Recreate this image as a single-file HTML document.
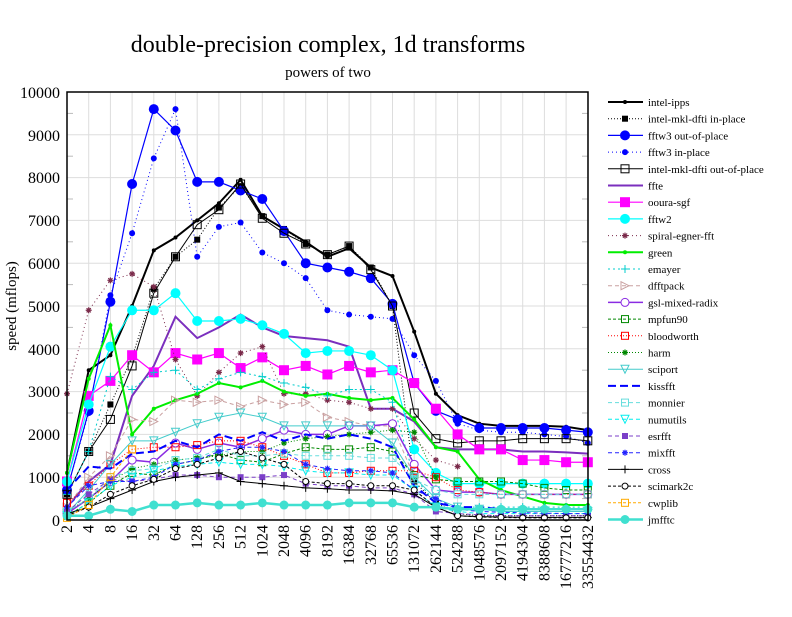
<!DOCTYPE html>
<html><head><meta charset="utf-8"><style>
body{margin:0;background:#fff}
svg text{font-family:"Liberation Serif",serif}
</style></head><body>
<svg id="s" width="792" height="612" viewBox="0 0 792 612" xmlns="http://www.w3.org/2000/svg">
<rect width="792" height="612" fill="#fff"/>
<text x="328" y="52" font-size="24" text-anchor="middle">double-precision complex, 1d transforms</text>
<text x="328" y="77" font-size="15" text-anchor="middle">powers of two</text>
<text transform="translate(16,306) rotate(-90)" font-size="15" text-anchor="middle">speed (mflops)</text>
<g font-size="16" text-anchor="end">
<text x="60" y="526">0</text><text x="60" y="483">1000</text><text x="60" y="440">2000</text><text x="60" y="397">3000</text><text x="60" y="355">4000</text><text x="60" y="312">5000</text><text x="60" y="269">6000</text><text x="60" y="226">7000</text><text x="60" y="183">8000</text><text x="60" y="141">9000</text><text x="60" y="98">10000</text>
</g>
<g id="xl" font-size="16" text-anchor="end">
<text transform="translate(72,525) rotate(-90)">2</text>
<text transform="translate(93.7,525) rotate(-90)">4</text>
<text transform="translate(115.4,525) rotate(-90)">8</text>
<text transform="translate(137.1,525) rotate(-90)">16</text>
<text transform="translate(158.8,525) rotate(-90)">32</text>
<text transform="translate(180.5,525) rotate(-90)">64</text>
<text transform="translate(202.2,525) rotate(-90)">128</text>
<text transform="translate(223.9,525) rotate(-90)">256</text>
<text transform="translate(245.6,525) rotate(-90)">512</text>
<text transform="translate(267.3,525) rotate(-90)">1024</text>
<text transform="translate(289,525) rotate(-90)">2048</text>
<text transform="translate(310.7,525) rotate(-90)">4096</text>
<text transform="translate(332.4,525) rotate(-90)">8192</text>
<text transform="translate(354.1,525) rotate(-90)">16384</text>
<text transform="translate(375.8,525) rotate(-90)">32768</text>
<text transform="translate(397.5,525) rotate(-90)">65536</text>
<text transform="translate(419.2,525) rotate(-90)">131072</text>
<text transform="translate(440.9,525) rotate(-90)">262144</text>
<text transform="translate(462.6,525) rotate(-90)">524288</text>
<text transform="translate(484.3,525) rotate(-90)">1048576</text>
<text transform="translate(506,525) rotate(-90)">2097152</text>
<text transform="translate(527.7,525) rotate(-90)">4194304</text>
<text transform="translate(549.4,525) rotate(-90)">8388608</text>
<text transform="translate(571.1,525) rotate(-90)">16777216</text>
<text transform="translate(592.8,525) rotate(-90)">33554432</text>
</g>
<g font-size="11">
<text x="648" y="106">intel-ipps</text>
<text x="648" y="122.7">intel-mkl-dfti in-place</text>
<text x="648" y="139.4">fftw3 out-of-place</text>
<text x="648" y="156.1">fftw3 in-place</text>
<text x="648" y="172.8">intel-mkl-dfti out-of-place</text>
<text x="648" y="189.5">ffte</text>
<text x="648" y="206.2">ooura-sgf</text>
<text x="648" y="222.9">fftw2</text>
<text x="648" y="239.6">spiral-egner-fft</text>
<text x="648" y="256.3">green</text>
<text x="648" y="273">emayer</text>
<text x="648" y="289.7">dfftpack</text>
<text x="648" y="306.4">gsl-mixed-radix</text>
<text x="648" y="323.1">mpfun90</text>
<text x="648" y="339.8">bloodworth</text>
<text x="648" y="356.5">harm</text>
<text x="648" y="373.2">sciport</text>
<text x="648" y="389.9">kissfft</text>
<text x="648" y="406.6">monnier</text>
<text x="648" y="423.3">numutils</text>
<text x="648" y="440">esrfft</text>
<text x="648" y="456.7">mixfft</text>
<text x="648" y="473.4">cross</text>
<text x="648" y="490.1">scimark2c</text>
<text x="648" y="506.8">cwplib</text>
<text x="648" y="523.5">jmfftc</text>
</g>
<g id="grid"></g>
<g id="plot"></g>
<rect x="67" y="92" width="521" height="428" fill="none" stroke="#000" stroke-width="1.5"/>
</svg>
<script>
var NS="http://www.w3.org/2000/svg";
var X0=67,DX=21.7,Y0=520,K=0.0428;
function el(n,a,p){var e=document.createElementNS(NS,n);for(var k in a)e.setAttribute(k,a[k]);(p||document.getElementById('plot')).appendChild(e);return e;}
var g=document.getElementById('grid');
for(var i=0;i<25;i++){var x=X0+i*DX;el('line',{x1:x,y1:92,x2:x,y2:520,stroke:'#ddd','stroke-width':1},g);}
for(var v=1000;v<10000;v+=1000){var y=Y0-v*K;el('line',{x1:67,y1:y,x2:588,y2:y,stroke:'#ddd','stroke-width':1},g);}
for(var v=500;v<10000;v+=1000){var y=Y0-v*K;el('line',{x1:67,y1:y,x2:73,y2:y,stroke:'#bbb'},g);el('line',{x1:582,y1:y,x2:588,y2:y,stroke:'#bbb'},g);}
var S=[
['#000',2,'','dot',2,[1100,3500,3850,5000,6300,6600,7000,7400,7950,7100,6800,6500,6150,6350,5900,5700,4400,2950,2450,2250,2200,2200,2200,2180,2100]],
['#000',1,'1,2','fsq',3,[600,1600,2700,3800,5400,6150,6550,7300,7800,7100,6800,6450,6200,6400,5900,5000,900,400,150,100,100,100,100,100,100]],
['#00f',1.2,'','dot',5,[700,2550,5100,7850,9600,9100,7900,7900,7700,7500,6750,6000,5900,5800,5650,5050,3200,2550,2350,2150,2150,2150,2150,2100,2050]],
['#00f',1,'1,3','dot',3,[700,2500,5250,6700,8450,9600,6150,6850,6950,6250,6000,5650,4900,4800,4750,4700,3850,3250,2250,2100,2050,2050,2000,1950,1800]],
['#000',1,'','osq',4,[600,1600,2350,3600,5300,6150,6900,7250,7850,7050,6700,6450,6200,6400,5850,5000,2500,1900,1800,1850,1850,1900,1900,1900,1850]],
['#7b2fbe',2,'','',0,[300,900,1300,2900,3600,4750,4250,4500,4800,4500,4300,4250,4200,4050,2600,2600,2300,1700,1650,1650,1650,1600,1600,1580,1550]],
['#f0f',1.2,'','fsq',5,[900,2900,3250,3850,3450,3900,3750,3900,3550,3800,3500,3600,3400,3600,3450,3500,3200,2600,2000,1650,1650,1400,1400,1350,1350]],
['#0ff',1.2,'','dot',5,[900,2700,4050,4900,4900,5300,4650,4650,4700,4550,4350,3900,3950,3950,3850,3500,1650,1100,850,850,850,850,850,850,850]],
['#7a2a4a',1,'1,3','star',3,[2950,4900,5600,5750,5450,3750,2900,3450,3900,4050,2950,2950,2800,2750,2600,2600,1900,1400,1250]],
['#0e0',2,'','dot',2,[1100,3300,4550,2000,2600,2800,2950,3200,3100,3250,3000,2900,2950,2850,2800,2850,2350,1700,1600,950,700,550,400,350,350]],
['#0cc',1,'2,3','plus',4,[600,1600,3350,3050,3450,3500,3050,3300,3450,3350,3200,3100,2900,3050,3050,2750,1000,400,300,300,300,300,300,300,300]],
['#c9a0a0',1,'4,3','tri',4,[300,1000,1500,2350,2300,2800,2750,2800,2650,2800,2700,2750,2400,2300,2200,2200,1000]],
['#8a2be2',1.5,'','ocirc',4,[150,500,900,1400,1350,1800,1650,1800,1700,1900,2100,2000,2000,2200,2200,2250,1300,700,650,650,600,600,600,600,600]],
['#080',1,'3,2','osq',3.5,[100,400,800,1100,1050,1300,1400,1550,1400,1350,1550,1700,1650,1650,1700,1600,1050,950,900,900,900,850,750,700,700]],
['#f00',1,'1,2','osq',3.5,[400,800,1300,1650,1700,1700,1750,1850,1850,1700,1500,1300,1100,1100,1150,1150,1150,1000,700,650,600,600,600,600,600]],
['#080',1,'1,2','star',3,[200,500,900,1200,1300,1400,1450,1500,1600,1600,1800,1900,1950,2000,2050,2100,2050,1000]],
['#4cc',1,'','tdn',4,[150,700,1300,1850,1850,2050,2250,2400,2500,2400,2200,2200,2200,2200,2200,1800,1000,500,300,250,200,200,200,200,200]],
['#00f',2,'8,4','',0,[700,1250,1200,1550,1600,1850,1700,2000,1850,2050,1850,2000,1900,2000,1900,1700,800,400,300,300,250,250,250,250,250]],
['#6dd',1,'4,3','osq',3.5,[200,500,1000,1150,1200,1400,1450,1650,1500,1500,1550,1500,1500,1500,1450,1450,950,700,600,600,600,600,600,600,600]],
['#0ee',1,'4,3','tdn',4,[100,400,800,1000,1150,1250,1300,1350,1300,1300,1250,1150,1100,1100,1050,1050,700,300,200,150,150,150,150,150,150]],
['#7b3fc8',1,'4,3','fsq',3,[200,600,950,900,950,1050,1050,1000,1000,1000,1050,850,800,800,750,750,600,200,150,120,100,100,100,100,100]],
['#22f',1,'4,3','star',3,[300,800,900,900,1000,1300,1400,1600,1700,1700,1600,1300,1200,1150,1150,1100,700,500,250,200,180,170,160,150,150]],
['#000',1,'','plus',4,[150,300,500,700,900,1000,1050,1100,900,850,800,750,730,700,700,680,600,300,100,80,70,60,60,60,60]],
['#000',1,'3,2','ocirc',3,[100,300,600,800,950,1200,1300,1450,1600,1450,1300,900,850,850,800,800,700,300,100,70,60,50,50,50,50]],
['#fa0',1,'3,2','osq',3.5,[50,350,1000,1650]],
['#40e0d0',2.5,'','dot',4.5,[100,100,250,200,350,350,400,350,350,400,350,350,350,400,400,400,300,300,250,250,250,250,250,250,250]]
];
function mk(t,x,y,r,c){
 if(t=='dot')el('circle',{cx:x,cy:y,r:r,fill:c});
 else if(t=='ocirc')el('circle',{cx:x,cy:y,r:r,fill:'#fff',stroke:c});
 else if(t=='fsq')el('rect',{x:x-r,y:y-r,width:2*r,height:2*r,fill:c});
 else if(t=='osq')el('rect',{x:x-r,y:y-r,width:2*r,height:2*r,fill:'none',stroke:c});
 else if(t=='plus')el('path',{d:'M'+(x-r)+' '+y+'h'+2*r+'M'+x+' '+(y-r)+'v'+2*r,stroke:c});
 else if(t=='star')el('path',{d:'M'+(x-r)+' '+y+'h'+2*r+'M'+x+' '+(y-r)+'v'+2*r+'M'+(x-r*.7)+' '+(y-r*.7)+'l'+1.4*r+' '+1.4*r+'M'+(x-r*.7)+' '+(y+r*.7)+'l'+1.4*r+' '+(-1.4*r),stroke:c,'stroke-width':1.2});
 else if(t=='tri')el('path',{d:'M'+(x-r)+' '+(y-r)+'L'+(x+r)+' '+y+'L'+(x-r)+' '+(y+r)+'Z',fill:'none',stroke:c});
 else if(t=='tdn')el('path',{d:'M'+(x-r)+' '+(y-r)+'L'+(x+r)+' '+(y-r)+'L'+x+' '+(y+r)+'Z',fill:'none',stroke:c});
}
S.forEach(function(s,j){
 var c=s[0],pts=s[5].map(function(v,i){return [X0+i*DX,Y0-v*K];});
 el('polyline',{points:pts.map(function(p){return p.join(',')}).join(' '),fill:'none',stroke:c,'stroke-width':s[1],'stroke-dasharray':s[2]||'none'});
 if(s[3])pts.forEach(function(p){mk(s[3],p[0],p[1],s[4],c);});
 var ly=102+j*16.7;
 el('line',{x1:608,y1:ly,x2:643,y2:ly,stroke:c,'stroke-width':s[1],'stroke-dasharray':s[2]||'none'});
 if(s[3])mk(s[3],625,ly,s[4],c);
});
</script>
</body></html>
